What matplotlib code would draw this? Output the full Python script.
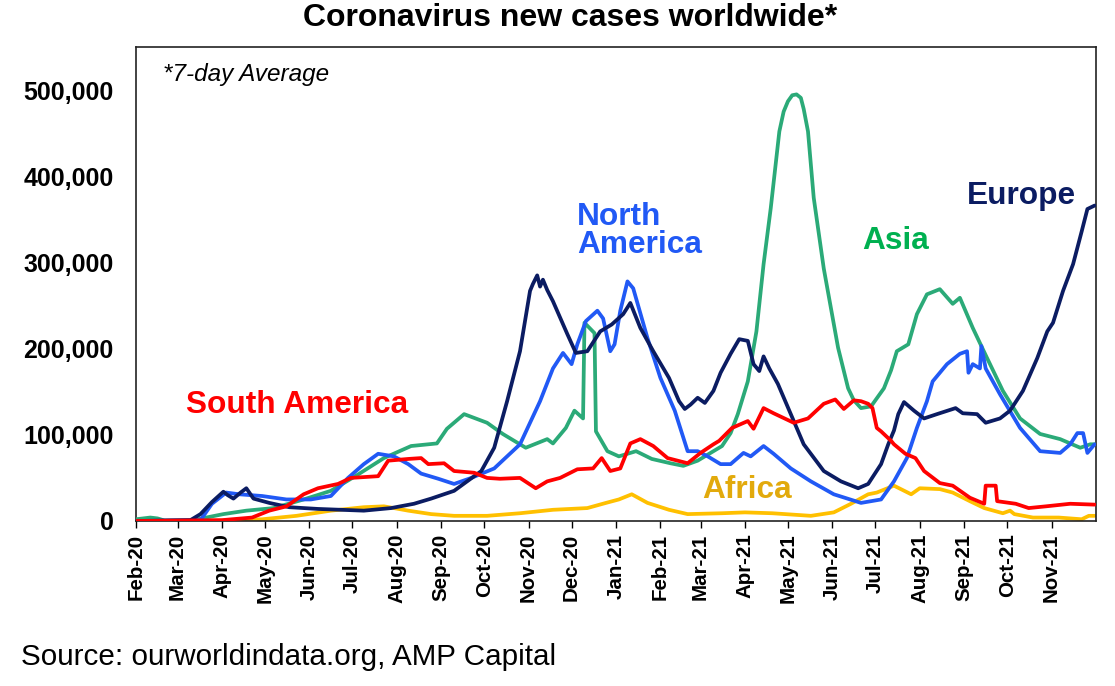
import matplotlib
matplotlib.use("Agg")
import matplotlib.pyplot as plt
import numpy as np
import pandas as pd

plt.rcParams['font.family'] = ['Liberation Sans', 'DejaVu Sans']

# ---------------- data (values in thousands of new cases, 7-day avg) ----------------
eu_dates = ["2020-02-01", "2020-03-10", "2020-03-17", "2020-03-25", "2020-04-02", "2020-04-05",
            "2020-04-09", "2020-04-14", "2020-04-18", "2020-04-23", "2020-05-04", "2020-05-18",
            "2020-06-07", "2020-07-09", "2020-07-28", "2020-08-13", "2020-08-25", "2020-09-10",
            "2020-09-29", "2020-10-08", "2020-10-17", "2020-10-26", "2020-11-02", "2020-11-04",
            "2020-11-07", "2020-11-09", "2020-11-11", "2020-11-14", "2020-11-18", "2020-11-28",
            "2020-12-04", "2020-12-12", "2020-12-21", "2020-12-29", "2021-01-06", "2021-01-11",
            "2021-01-18", "2021-01-27", "2021-02-07", "2021-02-14", "2021-02-18", "2021-02-22",
            "2021-02-27", "2021-03-04", "2021-03-10", "2021-03-15", "2021-03-22", "2021-03-28",
            "2021-04-03", "2021-04-07", "2021-04-11", "2021-04-14", "2021-04-18", "2021-04-24",
            "2021-05-03", "2021-05-12", "2021-05-26", "2021-06-07", "2021-06-19", "2021-06-26",
            "2021-07-05", "2021-07-10", "2021-07-14", "2021-07-17", "2021-07-21", "2021-07-28",
            "2021-08-04", "2021-08-13", "2021-08-26", "2021-08-31", "2021-09-10", "2021-09-16",
            "2021-09-26", "2021-10-03", "2021-10-12", "2021-10-22", "2021-10-29", "2021-11-02",
            "2021-11-09", "2021-11-16", "2021-11-22", "2021-11-26", "2021-12-01"]
eu_vals = [0, 1, 8, 22, 34, 30,
           26, 33, 38, 26, 21, 16,
           14, 12, 15, 20, 26, 35,
           58, 85, 139, 197, 267, 275,
           285, 272, 280, 268, 255, 217,
           195, 197, 220, 228, 240, 253,
           224, 197, 166, 139, 130, 135,
           143, 137, 151, 172, 194, 211,
           209, 182, 174, 191, 177, 159,
           124, 89, 58, 46, 38, 43,
           66, 89, 105, 124, 138, 128,
           119, 124, 131, 125, 124, 114,
           119, 128, 151, 189, 220, 230,
           267, 298, 336, 362, 366]

na_dates = ["2020-02-01", "2020-03-17", "2020-03-25", "2020-04-04", "2020-04-13", "2020-04-29",
            "2020-05-16", "2020-06-02", "2020-06-16", "2020-06-28", "2020-07-09", "2020-07-19",
            "2020-07-30", "2020-08-09", "2020-08-18", "2020-08-30", "2020-09-10", "2020-09-22",
            "2020-10-08", "2020-10-26", "2020-11-09", "2020-11-18", "2020-11-25", "2020-12-01",
            "2020-12-05", "2020-12-11", "2020-12-19", "2020-12-23", "2020-12-28", "2020-12-31",
            "2021-01-04", "2021-01-09", "2021-01-13", "2021-01-23", "2021-02-01", "2021-02-11",
            "2021-02-20", "2021-02-27", "2021-03-06", "2021-03-15", "2021-03-22", "2021-03-31",
            "2021-04-05", "2021-04-14", "2021-04-21", "2021-05-03", "2021-05-17", "2021-06-02",
            "2021-06-21", "2021-07-05", "2021-07-14", "2021-07-23", "2021-07-30", "2021-08-06",
            "2021-08-10", "2021-08-20", "2021-08-29", "2021-09-03", "2021-09-04", "2021-09-07",
            "2021-09-12", "2021-09-13", "2021-09-16", "2021-09-26", "2021-10-10", "2021-10-24",
            "2021-11-07", "2021-11-14", "2021-11-19", "2021-11-23", "2021-11-26", "2021-12-01"]
na_vals = [0, 1, 20, 33, 31, 29,
           25, 25, 29, 50, 66, 78,
           75, 66, 55, 49, 43, 50,
           61, 89, 139, 177, 195, 182,
           205, 232, 244, 235, 197, 205,
           244, 278, 270, 212, 166, 128,
           81, 81, 75, 66, 66, 79,
           75, 87, 78, 61, 46, 31,
           21, 25, 46, 73, 108, 139,
           162, 182, 194, 197, 172, 182,
           177, 203, 177, 147, 108, 81,
           79, 89, 102, 102, 79, 89]

as_dates = ["2020-02-01", "2020-02-11", "2020-02-16", "2020-02-21", "2020-03-11", "2020-03-21",
            "2020-04-02", "2020-04-18", "2020-05-07", "2020-05-28", "2020-06-16", "2020-07-05",
            "2020-07-23", "2020-08-11", "2020-08-29", "2020-09-05", "2020-09-17", "2020-10-03",
            "2020-10-14", "2020-10-30", "2020-11-14", "2020-11-18", "2020-11-27", "2020-12-03",
            "2020-12-09", "2020-12-10", "2020-12-17", "2020-12-18", "2020-12-26", "2021-01-03",
            "2021-01-15", "2021-01-26", "2021-02-08", "2021-02-17", "2021-02-27", "2021-03-07",
            "2021-03-16", "2021-03-22", "2021-03-27", "2021-04-03", "2021-04-09", "2021-04-14",
            "2021-04-19", "2021-04-25", "2021-04-28", "2021-05-01", "2021-05-04", "2021-05-07",
            "2021-05-10", "2021-05-12", "2021-05-15", "2021-05-19", "2021-05-26", "2021-06-05",
            "2021-06-12", "2021-06-16", "2021-06-21", "2021-06-28", "2021-07-07", "2021-07-12",
            "2021-07-16", "2021-07-19", "2021-07-24", "2021-07-30", "2021-08-06", "2021-08-15",
            "2021-08-24", "2021-08-29", "2021-09-07", "2021-09-17", "2021-09-28", "2021-10-10",
            "2021-10-24", "2021-11-07", "2021-11-21", "2021-11-28", "2021-12-01"]
as_vals = [2, 4, 3, 0.5, 0.5, 4,
           8, 12, 15, 25, 35, 54,
           73, 87, 90, 107, 124, 114,
           101, 85, 95, 90, 108, 128,
           119, 230, 218, 104, 81, 75,
           81, 72, 67, 64, 70, 78,
           87, 102, 124, 162, 220, 298,
           363, 452, 475, 487, 494, 495,
           491, 478, 452, 375, 293, 201,
           154, 140, 131, 133, 154, 175,
           197, 200, 205, 240, 263, 269,
           252, 259, 224, 189, 151, 119,
           101, 95, 85, 89, 89]

sa_dates = ["2020-02-01", "2020-04-01", "2020-04-22", "2020-05-04", "2020-05-16", "2020-05-28",
            "2020-06-07", "2020-06-21", "2020-06-30", "2020-07-19", "2020-07-26", "2020-08-09",
            "2020-08-18", "2020-08-23", "2020-09-03", "2020-09-10", "2020-09-24", "2020-10-03",
            "2020-10-12", "2020-10-26", "2020-11-06", "2020-11-14", "2020-11-23", "2020-12-05",
            "2020-12-16", "2020-12-22", "2020-12-28", "2021-01-04", "2021-01-11", "2021-01-18",
            "2021-01-27", "2021-02-06", "2021-02-13", "2021-02-20", "2021-03-01", "2021-03-10",
            "2021-03-14", "2021-03-23", "2021-04-03", "2021-04-07", "2021-04-14", "2021-04-21",
            "2021-05-05", "2021-05-15", "2021-05-26", "2021-06-03", "2021-06-09", "2021-06-16",
            "2021-06-21", "2021-06-26", "2021-06-29", "2021-07-02", "2021-07-05", "2021-07-12",
            "2021-07-14", "2021-07-22", "2021-07-29", "2021-08-04", "2021-08-15", "2021-08-24",
            "2021-09-05", "2021-09-15", "2021-09-16", "2021-09-23", "2021-09-24", "2021-10-07",
            "2021-10-16", "2021-10-28", "2021-11-14", "2021-12-01"]
sa_vals = [0, 1, 4, 12, 17, 31,
           38, 43, 50, 52, 70, 72,
           73, 66, 67, 58, 56, 50,
           49, 50, 38, 46, 50, 60,
           61, 73, 58, 61, 90, 95,
           87, 73, 70, 67, 79, 89,
           93, 108, 116, 107, 131, 125,
           114, 119, 136, 141, 130, 140,
           139, 136, 131, 108, 104, 93,
           89, 78, 73, 58, 44, 41,
           27, 20, 41, 41, 23, 20,
           15, 17, 20, 19]

af_dates = ["2020-02-01", "2020-04-02", "2020-04-29", "2020-05-23", "2020-06-16", "2020-07-09",
            "2020-07-23", "2020-07-30", "2020-08-09", "2020-08-25", "2020-09-10", "2020-10-03",
            "2020-10-26", "2020-11-18", "2020-12-12", "2020-12-25", "2021-01-03", "2021-01-12",
            "2021-01-23", "2021-02-07", "2021-02-20", "2021-03-16", "2021-04-01", "2021-04-20",
            "2021-05-17", "2021-06-02", "2021-06-14", "2021-06-26", "2021-07-02", "2021-07-14",
            "2021-07-26", "2021-08-01", "2021-08-15", "2021-08-24", "2021-09-05", "2021-09-15",
            "2021-09-28", "2021-10-03", "2021-10-06", "2021-10-19", "2021-11-06", "2021-11-22",
            "2021-11-27", "2021-12-01"]
af_vals = [0, 0.5, 2, 6, 12, 16,
           17, 15, 12, 8, 6, 6,
           9, 13, 15, 21, 25, 31,
           21, 13, 8, 9, 10, 9,
           6, 10, 20, 31, 33, 41,
           31, 38, 37, 33, 23, 15,
           9, 12, 8, 4, 4, 2,
           6, 6]

month_ticks = pd.date_range("2020-02-01", "2021-11-01", freq="MS")
y_ticks = [0, 100000, 200000, 300000, 400000, 500000]

series = [
    ("Africa", af_dates, af_vals, "#FFC000"),
    ("Asia", as_dates, as_vals, "#2BAA78"),
    ("North America", na_dates, na_vals, "#2159F5"),
    ("Europe", eu_dates, eu_vals, "#0B1C62"),
    ("South America", sa_dates, sa_vals, "#FF0000"),
]

# ---------------- figure ----------------
W, H = 1115, 686
fig = plt.figure(figsize=(W / 100, H / 100), dpi=100)
L, R, T, B = 136, 1096, 47, 521
ax = fig.add_axes([L / W, 1 - B / H, (R - L) / W, (B - T) / H])

for z, (name, d, v, c) in enumerate(series):
    ax.plot(pd.to_datetime(d), np.array(v) * 1000, color=c, lw=2.7, zorder=2 + z,
            solid_joinstyle="round", solid_capstyle="round")

ax.set_xlim(pd.Timestamp("2020-02-01"), pd.Timestamp("2021-12-02"))
ax.set_ylim(0, 550000)

ax.set_yticks(y_ticks)
ax.set_yticklabels([f"{t:,}" for t in y_ticks], fontsize=18, fontweight="bold")
ax.tick_params(axis="y", length=0, pad=16)

ax.set_xticks(month_ticks)
ax.set_xticklabels([t.strftime("%b-%y") for t in month_ticks], rotation=90,
                   fontsize=14.8, fontweight="bold")
ax.tick_params(axis="x", direction="out", length=5, width=1, pad=4)

for s in ax.spines.values():
    s.set_linewidth(1.2)
    s.set_color("#222222")

def ftext(x, y, s, **kw):
    fig.text(x / W, 1 - y / H, s, **kw)

ftext(570, 18, "Coronavirus new cases worldwide*", ha="center", va="center",
      fontsize=23, fontweight="bold")
ftext(163, 75, "*7-day Average", ha="left", va="center", fontsize=17.5, style="italic")
ftext(186, 405, "South America", ha="left", va="center", fontsize=22.8,
      fontweight="bold", color="#FF0000")
ftext(577, 231, "North\nAmerica", ha="left", va="center", fontsize=22.8,
      fontweight="bold", color="#2159F5", linespacing=0.95)
ftext(862, 241, "Asia", ha="left", va="center", fontsize=22.8,
      fontweight="bold", color="#00B050")
ftext(967, 196, "Europe", ha="left", va="center", fontsize=22.8,
      fontweight="bold", color="#0B1C62")
ftext(702, 490, "Africa", ha="left", va="center", fontsize=22.8,
      fontweight="bold", color="#E2AA0C")
ftext(21, 657, "Source: ourworldindata.org, AMP Capital", ha="left", va="center",
      fontsize=21.3)

fig.savefig("out.png", dpi=100)
